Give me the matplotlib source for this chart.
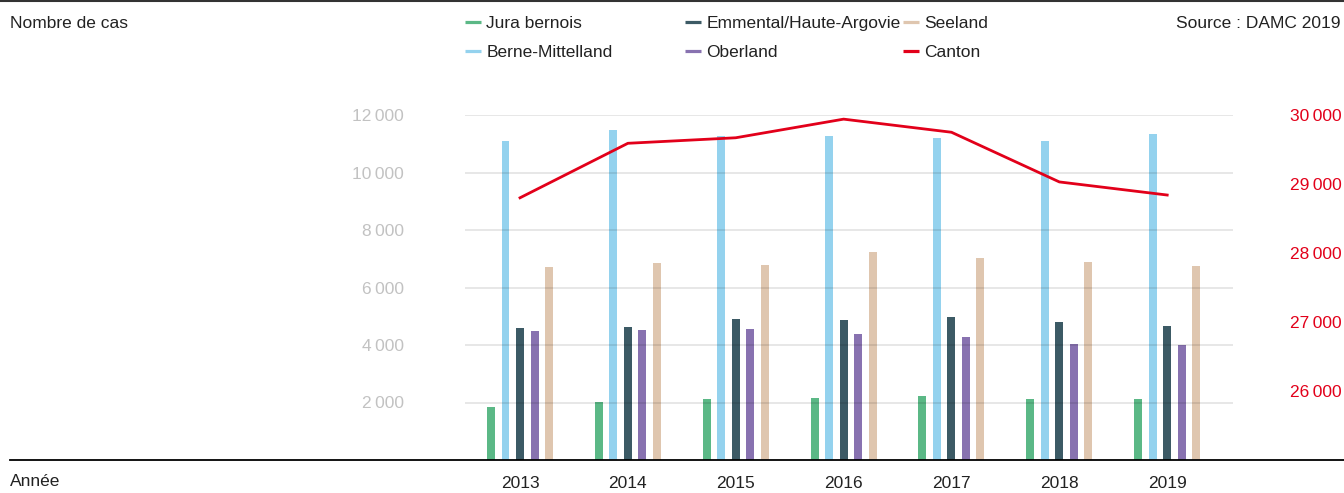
import matplotlib
matplotlib.use("Agg")
import matplotlib.pyplot as plt
from matplotlib.lines import Line2D
import numpy as np

plt.rcParams['font.family'] = ['Liberation Sans', 'DejaVu Sans']

# data
years = ['2013', '2014', '2015', '2016', '2017', '2018', '2019']
jura_bernois = [1850, 2020, 2130, 2160, 2230, 2130, 2130]
berne_mittelland = [11100, 11480, 11270, 11270, 11200, 11100, 11340]
emmental = [4600, 4630, 4910, 4870, 4980, 4800, 4670]
oberland = [4490, 4530, 4560, 4390, 4280, 4040, 4000]
seeland = [6720, 6850, 6790, 7240, 7030, 6890, 6750]
canton = [28800, 29590, 29670, 29940, 29750, 29030, 28840]

series = [
    ('Jura bernois', jura_bernois, '#5bb886'),
    ('Berne-Mittelland', berne_mittelland, '#94d2ee'),
    ('Emmental/Haute-Argovie', emmental, '#3c5a65'),
    ('Oberland', oberland, '#8872b0'),
    ('Seeland', seeland, '#dfc6af'),
]
red = '#e2001a'
W, H = 1344, 493

fig = plt.figure(figsize=(W / 100, H / 100), dpi=100)
ax = fig.add_axes([465 / W, 33 / H, (1233 - 465) / W, (460 - 115) / H])

x = np.arange(len(years))
step = 0.1345
for i, (name, vals, col) in enumerate(series):
    ax.bar(x + (i - 2) * step, vals, width=0.074, color=col, zorder=2)

ax.set_xlim(-0.51, 6.61)
ax.set_ylim(0, 12000)
yt = [2000, 4000, 6000, 8000, 10000, 12000]
ax.set_yticks(yt)
ax.set_yticklabels([f"{v // 1000}\u2009{v % 1000:03d}" for v in yt])
ax.tick_params(axis='y', length=0, pad=44, labelsize=12.5, labelcolor='#c2c2c2')
ax.set_xticks(x)
ax.set_xticklabels(years)
ax.tick_params(axis='x', length=0, pad=11.5, labelsize=12.5, labelcolor='#222222')
ax.grid(axis='y', color='black', alpha=0.1, linewidth=1.3, zorder=3)
ax.set_axisbelow(False)
for s in ax.spines.values():
    s.set_visible(False)

ax2 = ax.twinx()
ax2.plot(x, canton, color=red, linewidth=2.0, zorder=4)
ax2.set_ylim(25000, 30000)
yt2 = [26000, 27000, 28000, 29000, 30000]
ax2.set_yticks(yt2)
ax2.set_yticklabels([f"{v // 1000}\u2009{v % 1000:03d}" for v in yt2])
ax2.tick_params(axis='y', length=0, pad=41, labelsize=12.5, labelcolor=red)
for s in ax2.spines.values():
    s.set_visible(False)

# frame lines
fig.add_artist(Line2D([10 / W, 1], [33 / H, 33 / H], color='black', linewidth=1.3))
fig.add_artist(Line2D([0, 1], [1 - 1 / H, 1 - 1 / H], color='#333333', linewidth=1.5))

fig.text(10 / W, 1 - 23 / H, 'Nombre de cas', fontsize=12.5, color='#222222', va='center')
fig.text(1340 / W, 1 - 23 / H, 'Source : DAMC 2019', fontsize=12.5, color='#222222',
         va='center', ha='right')
fig.text(10 / W, 1 - 482 / H, 'Année', fontsize=12.5, color='#222222', va='center')

# legend in three columns, short thick bars as keys
handles = [Line2D([], [], color=c, linewidth=2.3, solid_capstyle='butt', label=n)
           for n, _, c in series]
handles.append(Line2D([], [], color=red, linewidth=2.3, solid_capstyle='butt', label='Canton'))
cols = [(465, handles[0:2]), (685, handles[2:4]), (903, handles[4:6])]
for xpos, hs in cols:
    leg = fig.legend(handles=hs, loc='upper left', bbox_to_anchor=(xpos / W, 1 - 16 / H),
                     frameon=False, fontsize=12.5, handlelength=0.92,
                     handletextpad=0.3, labelspacing=0.79, borderpad=0, borderaxespad=0)
    for t in leg.get_texts():
        t.set_color('#222222')

fig.savefig('out.png', dpi=100)
